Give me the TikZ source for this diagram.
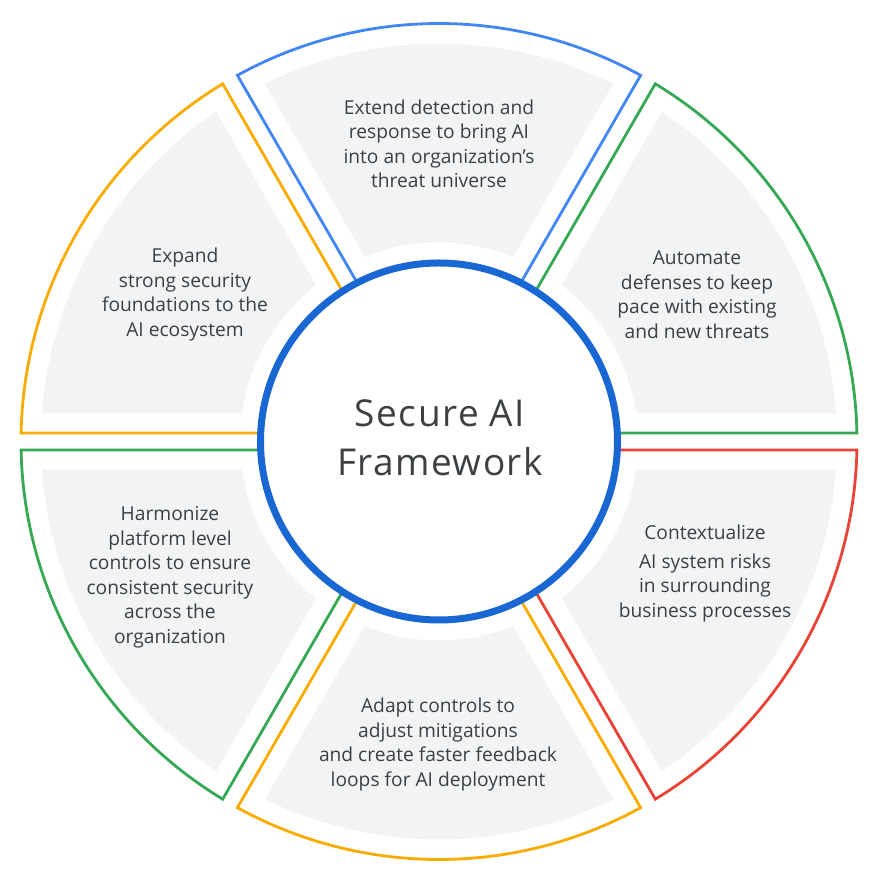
\documentclass[tikz,border=0pt]{standalone}
\usepackage{fontspec}
\setmainfont{Open Sans}
\usetikzlibrary{calc}
\definecolor{gblue}{HTML}{4285F4}
\definecolor{gyellow}{HTML}{F9AB00}
\definecolor{ggreen}{HTML}{34A853}
\definecolor{gred}{HTML}{EA4335}
\definecolor{cblue}{HTML}{1967D2}
\definecolor{segfill}{HTML}{F1F3F4}
\definecolor{txt}{HTML}{3C4043}
\tikzset{
  seglabel/.style={align=center, text=txt, font=\fontsize{19.2}{24.5}\selectfont, inner sep=0pt},
  outline/.style={line width=2.8pt, line join=miter},
}
\begin{document}
\begin{tikzpicture}[x=1pt,y=1pt]
\useasboundingbox (0,0) rectangle (880,880);
\coordinate (C) at (439,438.5);
\pgfmathsetmacro{\dO}{asin(8.5/418)}
\pgfmathsetmacro{\go}{asin(28/398)}
\pgfmathsetmacro{\gi}{asin(28/199)}
\foreach \a/\col in {60/gblue,120/gyellow,180/ggreen,240/gyellow,300/gred,0/ggreen}{
  \pgfmathsetmacro{\aend}{\a+60}
  \fill[segfill] ($(C)+(\a+\gi:199)$) -- ($(C)+(\a+\go:398)$)
     arc[start angle=\a+\go, end angle=\aend-\go, radius=398]
     -- ($(C)+(\aend-\gi:199)$)
     arc[start angle=\aend-\gi, end angle=\a+\gi, radius=199] -- cycle;
  \draw[outline, draw=\col] ($(C)+(\a:150)+(\a+90:8.5)$) -- ($(C)+(\a+\dO:418)$)
     arc[start angle=\a+\dO, end angle=\aend-\dO, radius=418]
     -- ($(C)+(\aend:150)+(\aend-90:8.5)$);
}
\node[circle, draw=cblue, line width=7pt, fill=white, minimum size=357pt, inner sep=0pt] (core) at (C) {};
\node[align=center, text=txt, font=\fontsize{37}{49}\selectfont\addfontfeatures{LetterSpace=4}] (title) at (440,442.5) {Secure AI\\Framework};
\node[seglabel] (t1) at (439,736) {Extend detection and\\response to bring AI\\into an organization’s\\threat universe};
\node[seglabel] (t2) at (697,585.5) {Automate\\defenses to keep\\pace with existing\\and new threats};
\node[seglabel] (t3) at (705,306.5) {Contextualize\\[4pt]AI system risks\\in surrounding\\business processes};
\node[seglabel] (t4) at (438,135.5) {Adapt controls to\\adjust mitigations\\and create faster feedback\\loops for AI deployment};
\node[seglabel] (t5) at (170,302.5) {Harmonize\\platform level\\controls to ensure\\consistent security\\across the\\organization};
\node[seglabel] (t6) at (185,585.5) {Expand\\strong security\\foundations to the\\AI ecosystem};
\end{tikzpicture}
\end{document}
